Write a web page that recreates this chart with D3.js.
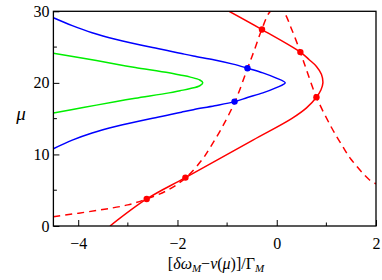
<!DOCTYPE html>
<html>
<head>
<meta charset="utf-8">
<script src="https://cdn.jsdelivr.net/npm/d3@7"></script>
<style>
  body { margin: 0; background: #fff; }
  svg, svg text { font-family: "Liberation Serif", "DejaVu Serif", serif; }
  svg { display: block; }
</style>
</head>
<body>
<svg id="chart" width="382" height="280"></svg>
<script>
// ---- data (x = [dw - nu]/Gamma, mu) ----
const xTicks = [-4, -2, 0, 2]
const xMinor = [-3, -1, 1]
const yTicks = [0, 10, 20, 30]
const yMinor = [5, 15, 25]

// blue curve, top branch then bottom branch
const blueX  = [-4.5, -4.12, -3.72, -3.23, -2.55, -2.14, -1.92, -1.68, -1.25, -0.88, -0.59, -0.28, -0.02, 0.17,
                -0.02, -0.28, -0.59, -0.85, -1.25, -1.68, -1.92, -2.14, -2.55, -3.23, -3.72, -4.12, -4.5]
const blueMu = [29.1, 28.0, 27.0, 26.06, 25.0, 24.43, 24.1, 23.75, 23.2, 22.62, 22.05, 21.4, 20.7, 20.0,
                19.3, 18.6, 17.95, 17.38, 16.8, 16.25, 15.9, 15.57, 15.0, 13.94, 13.0, 12.0, 10.8]

// green curve
const greenX  = [-4.5, -3.9, -3.23, -2.85, -2.17, -1.95, -1.74, -1.55, -1.49,
                 -1.55, -1.74, -1.95, -2.17, -2.85, -3.23, -3.9, -4.5]
const greenMu = [24.15, 23.45, 22.6, 22.15, 21.4, 21.1, 20.8, 20.4, 20.0,
                 19.6, 19.2, 18.9, 18.6, 17.85, 17.4, 16.55, 15.8]

// red solid curve
const redX  = [-3.36, -2.62, -1.84, -0.48, 0.30, 0.6, 0.80, 0.89, 0.93, 0.90, 0.80, 0.66, 0.476, -0.297, -0.96]
const redMu = [0, 3.78, 6.76, 12.0, 15.0, 16.5, 18.0, 19.0, 20.0, 21.2, 22.3, 23.2, 24.3, 27.45, 30]

// red dashed curve
const dashX  = [-4.5, -3.6, -3.0, -2.62, -2.2, -1.84, -1.5, -1.33, -1.1, -0.84, -0.59, -0.45, -0.3, -0.14, 0,
                0.14, 0.3, 0.476, 0.59, 0.80, 1.1, 1.33, 1.5, 1.86, 2.0]
const dashMu = [1.3, 2.2, 2.95, 3.78, 5.0, 6.7, 9.3, 11.1, 13.8, 17.4, 22.0, 24.6, 27.5, 29.9, 30.5,
                29.9, 27.5, 24.3, 22.0, 18.0, 13.8, 11.1, 9.3, 6.5, 5.9]

// crossing points
const redDotX  = [-2.62, -1.84, 0.80, 0.476, -0.297]
const redDotMu = [3.78, 6.76, 18.0, 24.3, 27.45]
const blueDotX  = [-0.59, -0.85]
const blueDotMu = [22.05, 17.38]

// ---- layout ----
margin = ({ top: 11.3, right: 6, bottom: 54, left: 53.4 });
width = 382;
height = 280;

x = d3.scaleLinear()
  .domain([-4.5, 2])
  .range([margin.left, width - margin.right])

y = d3.scaleLinear()
  .domain([0, 30])
  .range([height - margin.bottom, margin.top])

const svg = d3.select("#chart");

svg.append("clipPath")
  .attr("id", "plot-clip")
  .append("rect")
  .attr("x", x(-4.5))
  .attr("y", y(30))
  .attr("width", x(2) - x(-4.5))
  .attr("height", y(0) - y(30));

const zip = (xs, ys) => xs.map((v, i) => [v, ys[i]])

const line = d3.line()
  .x(d => x(d[0]))
  .y(d => y(d[1]))
  .curve(d3.curveCatmullRom.alpha(0.5))

const plot = svg.append("g").attr("clip-path", "url(#plot-clip)");

plot.append("path")
  .attr("d", line(zip(greenX, greenMu)))
  .attr("fill", "none")
  .attr("stroke", "#00ee00")
  .attr("stroke-width", 1.5);

plot.append("path")
  .attr("d", line(zip(blueX, blueMu)))
  .attr("fill", "none")
  .attr("stroke", "#0000ff")
  .attr("stroke-width", 1.5);

plot.append("path")
  .attr("d", line(zip(dashX, dashMu)))
  .attr("fill", "none")
  .attr("stroke", "#ff0000")
  .attr("stroke-width", 1.5)
  .attr("stroke-dasharray", "7,5");

plot.append("path")
  .attr("d", line(zip(redX, redMu)))
  .attr("fill", "none")
  .attr("stroke", "#ff0000")
  .attr("stroke-width", 1.5);

plot.selectAll(".reddot")
  .data(zip(redDotX, redDotMu))
  .join("circle")
  .attr("class", "reddot")
  .attr("cx", d => x(d[0]))
  .attr("cy", d => y(d[1]))
  .attr("r", 3.2)
  .attr("fill", "#ff0000");

plot.selectAll(".bluedot")
  .data(zip(blueDotX, blueDotMu))
  .join("circle")
  .attr("class", "bluedot")
  .attr("cx", d => x(d[0]))
  .attr("cy", d => y(d[1]))
  .attr("r", 3.2)
  .attr("fill", "#0000ff");

// frame
svg.append("rect")
  .attr("x", x(-4.5))
  .attr("y", y(30))
  .attr("width", x(2) - x(-4.5))
  .attr("height", y(0) - y(30))
  .attr("fill", "none")
  .attr("stroke", "#000")
  .attr("stroke-width", 1.3);

// axes with inward ticks
const serif = "Liberation Serif, DejaVu Serif, serif"

const xAxis = g => g
  .attr("transform", `translate(0,${y(0)})`)
  .call(d3.axisBottom(x).tickValues(xTicks).tickSize(-6).tickPadding(12)
    .tickFormat(d => d < 0 ? "\u2212" + Math.abs(d) : d))
  .attr("font-family", serif)
  .call(g => g.select(".domain").remove())
  .call(g => g.selectAll(".tick text").attr("font-size", 16).attr("fill", "#000"))
  .call(g => g.selectAll(".tick line").attr("stroke", "#000"))

const yAxis = g => g
  .attr("transform", `translate(${x(-4.5)},0)`)
  .call(d3.axisLeft(y).tickValues(yTicks).tickSize(-6).tickPadding(4))
  .attr("font-family", serif)
  .call(g => g.select(".domain").remove())
  .call(g => g.selectAll(".tick text").attr("font-size", 16).attr("fill", "#000"))
  .call(g => g.selectAll(".tick line").attr("stroke", "#000"))

svg.append("g").call(xAxis);
svg.append("g").call(yAxis);

svg.append("g")
  .selectAll("line")
  .data(xMinor)
  .join("line")
  .attr("x1", d => x(d)).attr("x2", d => x(d))
  .attr("y1", y(0)).attr("y2", y(0) - 3.5)
  .attr("stroke", "#000");

svg.append("g")
  .selectAll("line")
  .data(yMinor)
  .join("line")
  .attr("x1", x(-4.5)).attr("x2", x(-4.5) + 3.5)
  .attr("y1", d => y(d)).attr("y2", d => y(d))
  .attr("stroke", "#000");

// axis titles
svg.append("text")
  .attr("x", 21)
  .attr("y", 120)
  .attr("text-anchor", "middle")
  .attr("font-size", 19)
  .attr("font-style", "italic")
  .text("\u03bc");

const xt = svg.append("text")
  .attr("x", 216)
  .attr("y", 269)
  .attr("text-anchor", "middle")
  .attr("font-size", 16);
xt.append("tspan").text("[");
xt.append("tspan").attr("font-style", "italic").text("\u03b4\u03c9");
xt.append("tspan").attr("font-style", "italic").attr("font-size", 11).attr("dy", 3).text("M");
xt.append("tspan").attr("dy", -3).text("\u2212");
xt.append("tspan").attr("font-style", "italic").text("\u03bd");
xt.append("tspan").text("(");
xt.append("tspan").attr("font-style", "italic").text("\u03bc");
xt.append("tspan").text(")]/\u0393");
xt.append("tspan").attr("font-style", "italic").attr("font-size", 11).attr("dy", 3).text("M");
</script>
</body>
</html>
